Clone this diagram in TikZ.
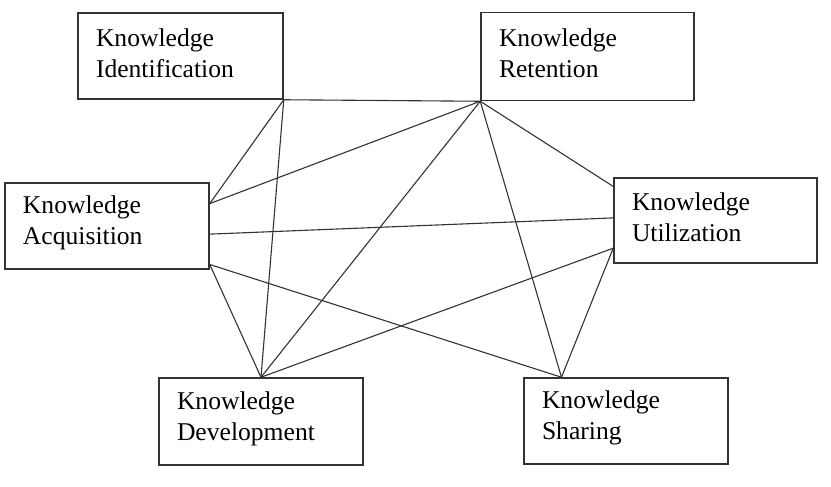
\documentclass[tikz,border=0pt]{standalone}
\usepackage{fontspec}
\setmainfont{Liberation Serif}
\usetikzlibrary{calc}

\tikzset{
  kbox/.style={draw=black!80,line width=1.5pt,rectangle,align=left,
    text width=168pt,inner xsep=18pt,inner ysep=0pt,minimum height=86pt,
    font=\fontsize{25.6}{31}\selectfont,execute at end node={\par\kern6pt}},
  link/.style={draw=black!80,line width=1.1pt}
}

\begin{document}
\begin{tikzpicture}[x=1pt,y=-1pt]
      \useasboundingbox (0,0) rectangle (831,487);
      % the six boxes
      \node[kbox,text width=169pt] (iden) at (180.5,56) {Knowledge\\Identification};
      \node[kbox,text width=177pt,minimum height=88pt] (ret) at (587.5,56.5) {Knowledge\\Retention};
      \node[kbox] (acq) at (107,226) {Knowledge\\Acquisition};
      \node[kbox,text width=167pt,minimum height=85pt] (util) at (715.5,220.5) {Knowledge\\Utilization};
      \node[kbox,minimum height=87pt] (dev) at (261,421.5) {Knowledge\\Development};
      \node[kbox] (shar) at (626,421) {Knowledge\\Sharing};
      % points on the box sides
      \coordinate (acqA) at ($(acq.north east)!0.244!(acq.south east)$);
      \coordinate (acqB) at ($(acq.north east)!0.593!(acq.south east)$);
      \coordinate (acqC) at ($(acq.north east)!0.94!(acq.south east)$);
      \coordinate (utilA) at ($(util.north west)!0.106!(util.south west)$);
      \coordinate (utilB) at ($(util.north west)!0.47!(util.south west)$);
      \coordinate (utilC) at ($(util.north west)!0.82!(util.south west)$);
      \coordinate (sharA) at ($(shar.north west)!0.186!(shar.north east)$);
      % links
      \draw[link] (iden.south east) -- (ret.south west);
      \draw[link] (iden.south east) -- (acqA);
      \draw[link] (iden.south east) -- (dev.north);
      \draw[link] (ret.south west) -- (acqA);
      \draw[link] (ret.south west) -- (dev.north);
      \draw[link] (ret.south west) -- (utilA);
      \draw[link] (ret.south west) -- (sharA);
      \draw[link] (acqB) -- (utilB);
      \draw[link] (acqC) -- (dev.north);
      \draw[link] (acqC) -- (sharA);
      \draw[link] (utilC) -- (dev.north);
      \draw[link] (utilC) -- (sharA);
\end{tikzpicture}
\end{document}
